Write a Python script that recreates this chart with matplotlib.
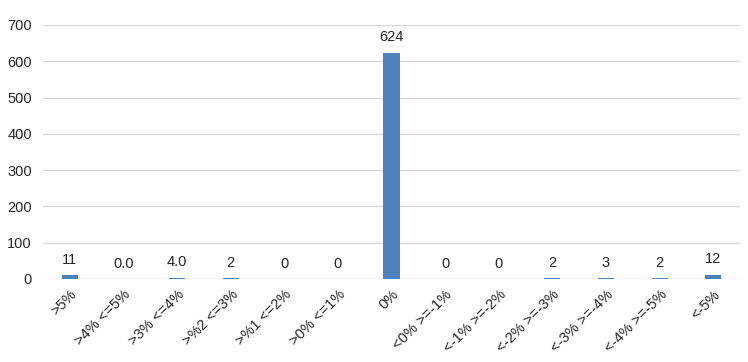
import matplotlib.pyplot as plt
from matplotlib.transforms import ScaledTranslation

categories = [">5%", ">4% <=5%", ">3% <=4%", ">%2 <=3%", ">%1 <=2%", ">0% <=1%", "0%",
              "<0% >=-1%", "<-1% >=-2%", "<-2% >=-3%", "<-3% >=-4%", "<-4% >=-5%", "<-5%"]
values = [11, 0, 4, 2, 0, 0, 624, 0, 0, 2, 3, 2, 12]
value_labels = ["11", "0.0", "4.0", "2", "0", "0", "624", "0", "0", "2", "3", "2", "12"]
yticks = [0, 100, 200, 300, 400, 500, 600, 700]

plt.rcParams["font.family"] = ["Liberation Sans", "DejaVu Sans"]
text_color = "#262626"

fig = plt.figure(figsize=(7.48, 3.62), dpi=100)
ax = fig.add_axes([43 / 748, 83 / 362, 697 / 748, 254 / 362])

x = range(len(categories))
ax.bar(x, values, width=0.3, color="#4f81bd", zorder=3)

for xi, v, lab in zip(x, values, value_labels):
    ax.annotate(lab, xy=(xi, v), xytext=(0, 6), textcoords="offset points",
                ha="center", va="bottom", fontsize=10.5, color=text_color)

ax.set_xlim(-0.5, len(categories) - 0.5)
ax.set_ylim(0, 700)
ax.set_yticks(yticks)
ax.set_xticks(list(x))
ax.set_xticklabels(categories, rotation=45, ha="right", rotation_mode="anchor",
                   fontsize=10.5, color=text_color)
shift = ScaledTranslation(-3 / 72, -5 / 72, fig.dpi_scale_trans)
for lbl in ax.get_xticklabels():
    lbl.set_transform(lbl.get_transform() + shift)
ax.tick_params(axis="both", length=0, labelcolor=text_color)
ax.tick_params(axis="x", pad=6)
ax.tick_params(axis="y", pad=8, labelsize=10.5)
ax.grid(axis="y", color="#d9d9d9", linewidth=1, zorder=0)
for s in ax.spines.values():
    s.set_visible(False)

fig.savefig("out.png", dpi=100)
